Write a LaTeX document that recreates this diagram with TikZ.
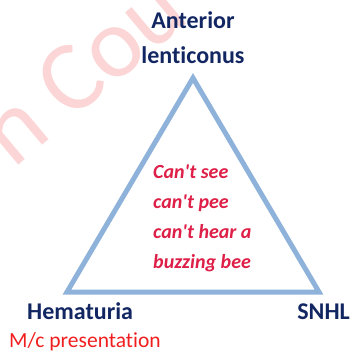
\documentclass[tikz,border=0pt]{standalone}
\usepackage{fontspec}
\setmainfont{Carlito}[Ligatures={TeX,NoCommon}]
\usepackage{xcolor}
\usetikzlibrary{positioning}
\definecolor{navy}{RGB}{18,38,98}
\definecolor{crimson}{RGB}{222,32,72}
\definecolor{mcred}{RGB}{240,30,30}
\definecolor{edgeblue}{RGB}{142,178,218}
\definecolor{wmpink}{RGB}{252,214,214}
\tikzset{
  corner/.style={font=\fontsize{24}{24}\selectfont\bfseries, text=navy, inner sep=0pt},
  mnemo/.style={font=\fontsize{20}{30}\selectfont\bfseries\itshape, text=crimson,
                align=left, inner sep=0pt},
  edge/.style={draw=edgeblue, line width=5pt, line join=miter},
}
\newcommand{\apos}{\textquotesingle}

\begin{document}
\begin{tikzpicture}[x=1pt, y=-1pt]
  \useasboundingbox (0,0) rectangle (350,354);
  \clip (0,0) rectangle (350,354);
  % watermark
  \node[anchor=base west, rotate=40, inner sep=0pt, text=wmpink,
        font=\fontsize{100}{100}\selectfont] (wm) at (13,170) {n Cou};
  % triangle
  \coordinate (apex) at (193,78);
  \coordinate (lcorner) at (67,292);
  \coordinate (rcorner) at (319,292);
  \draw[edge] (apex) -- (lcorner) -- (rcorner) -- cycle;
  % labels
  \node[corner, anchor=base] (ant) at (193,28) {Anterior};
  \node[corner, anchor=base] (lent) at (193,63) {lenticonus};
  \node[corner, anchor=base west] (hema) at (27,319) {Hematuria};
  \node[anchor=base west, inner sep=0pt, text=mcred,
        font=\fontsize{21.5}{21.5}\selectfont] (mc) at (9,347) {M/c presentation};
  \node[corner, anchor=base east] (snhl) at (350,319) {SNHL};
  \node[mnemo, anchor=base west] (rhyme) at (153,268)
    {Can\apos t see\\ can\apos t pee\\ can\apos t hear a\\ buzzing bee};
\end{tikzpicture}
\end{document}
